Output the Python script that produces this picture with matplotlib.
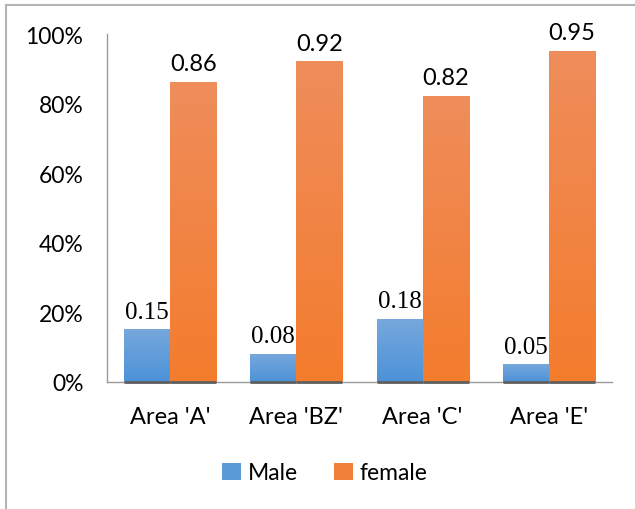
import numpy as np
import matplotlib.pyplot as plt
from matplotlib.colors import LinearSegmentedColormap
from matplotlib.patches import Rectangle

areas = ["Area 'A'", "Area 'BZ'", "Area 'C'", "Area 'E'"]
male = [0.15, 0.08, 0.18, 0.05]
female = [0.86, 0.92, 0.82, 0.95]
yticks = [0, 0.2, 0.4, 0.6, 0.8, 1.0]
ytick_labels = ['0%', '20%', '40%', '60%', '80%', '100%']

sans = ['Lato', 'DejaVu Sans']
serif = ['Liberation Serif', 'DejaVu Serif']

male_cmap = LinearSegmentedColormap.from_list('m', ['#4c92d8', '#76a8dc'])
female_cmap = LinearSegmentedColormap.from_list('f', ['#f47c2d', '#ef8d5b'])

fig = plt.figure(figsize=(6.35, 5.10), dpi=100)
ax = fig.add_axes([107 / 635, 1 - 383 / 510, 505 / 635, 348 / 510])

# frame around the chart (cropped at right / bottom)
fig.patches.append(Rectangle((5.5 / 635, -0.1), 1.2, (1 - 5.5 / 510) + 0.1,
                             transform=fig.transFigure, fill=False,
                             edgecolor='#b4b4b4', linewidth=1.5))

x = np.arange(len(areas))
w = 0.365
grad = np.linspace(0, 1, 100).reshape(-1, 1)

bars_m = ax.bar(x - w / 2, male, w, color='#5b9bd5', label='Male', zorder=2)
bars_f = ax.bar(x + w / 2, female, w, color='#f0813a', label='female', zorder=2)

# gradient fill over each bar
for bars, cmap in [(bars_m, male_cmap), (bars_f, female_cmap)]:
    for b in bars:
        x0, y0 = b.get_x(), b.get_y()
        ax.imshow(grad, cmap=cmap, aspect='auto', origin='lower',
                  extent=[x0, x0 + b.get_width(), y0, y0 + b.get_height()],
                  zorder=3)
        # dark shadow line along the bar foot
        ax.plot([x0, x0 + b.get_width()], [0, 0], color='#5f5f5f', lw=2,
                zorder=4, solid_capstyle='butt', clip_on=False)

for b, v in zip(bars_m, male):
    ax.annotate(f'{v:.2f}', (b.get_x() + b.get_width() / 2, v),
                xytext=(0, 5), textcoords='offset points', ha='center',
                va='bottom', fontsize=18, family=serif, color='#000000')
for b, v in zip(bars_f, female):
    ax.annotate(f'{v:.2f}', (b.get_x() + b.get_width() / 2, v),
                xytext=(0, 6), textcoords='offset points', ha='center',
                va='bottom', fontsize=17, family=sans, color='#000000')

ax.set_xlim(-0.5, len(areas) - 0.5)
ax.set_ylim(0, 1.0)
ax.set_yticks(yticks)
ax.set_yticklabels(ytick_labels, family=sans, fontsize=16.5)
ax.set_xticks(x)
ax.set_xticklabels(areas, family=sans, fontsize=17)
ax.tick_params(axis='y', length=0, pad=17)
ax.tick_params(axis='x', length=0, pad=17)

for s in ['top', 'right']:
    ax.spines[s].set_visible(False)
ax.spines['left'].set_color('#9a9a9a')
ax.spines['bottom'].set_color('#9a9a9a')
ax.spines['left'].set_linewidth(1.0)
ax.spines['bottom'].set_linewidth(1.0)

leg = fig.legend(handles=[bars_m, bars_f], labels=['Male', 'female'],
                 loc='center', bbox_to_anchor=(325 / 635, 1 - 474 / 510),
                 ncol=2, frameon=False, prop={'family': sans, 'size': 16.5},
                 handlelength=0.8, handleheight=0.8, handletextpad=0.3,
                 columnspacing=1.6)

fig.savefig('out.png', dpi=100)
